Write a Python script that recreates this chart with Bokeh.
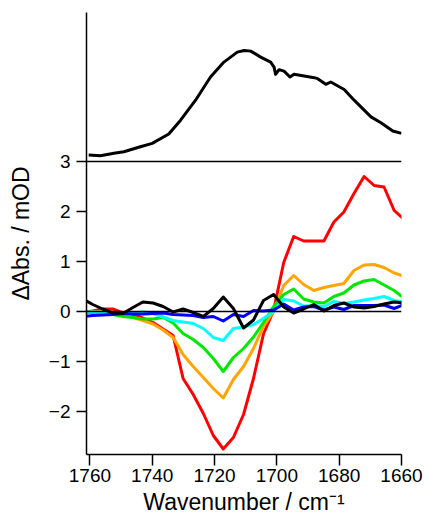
from bokeh.plotting import figure
from bokeh.models import Range1d, Span, FixedTicker
from bokeh.embed import file_html
from bokeh.resources import INLINE

# ---- data ----
wavenumber = [1762.3, 1759.1, 1755.9, 1752.65, 1749.4, 1746.2, 1743.0, 1739.75, 1736.5,
              1733.3, 1730.1, 1726.85, 1723.6, 1720.4, 1717.2, 1713.95, 1710.7, 1707.5,
              1704.3, 1701.05, 1697.8, 1694.6, 1691.4, 1688.15, 1684.9, 1681.7, 1678.5,
              1675.25, 1672.0, 1668.8, 1665.6, 1662.35, 1659.1]

red = [-0.02, 0.01, 0.05, 0.05, -0.03, -0.06, -0.13, -0.22, -0.35, -0.48, -1.34, -1.66,
       -2.04, -2.48, -2.75, -2.52, -2.06, -1.34, -0.45, 0.02, 0.98, 1.50, 1.41, 1.41, 1.41,
       1.79, 1.99, 2.36, 2.70, 2.52, 2.49, 2.02, 1.84]
orange = [-0.02, 0.0, 0.0, -0.02, -0.06, -0.12, -0.18, -0.25, -0.37, -0.52, -0.86, -1.10,
          -1.32, -1.54, -1.73, -1.36, -1.10, -0.74, -0.30, 0.0, 0.52, 0.72, 0.54, 0.42, 0.48,
          0.52, 0.56, 0.82, 0.93, 0.94, 0.88, 0.77, 0.70]
green = [-0.02, -0.02, -0.04, -0.06, -0.10, -0.12, -0.15, -0.15, -0.12, -0.23, -0.44, -0.56,
         -0.72, -0.94, -1.20, -0.92, -0.74, -0.51, -0.22, 0.10, 0.34, 0.45, 0.25, 0.19, 0.17,
         0.30, 0.37, 0.53, 0.61, 0.64, 0.53, 0.42, 0.26]
cyan = [0.0, -0.01, -0.02, -0.04, -0.04, -0.03, -0.01, -0.04, -0.11, -0.18, -0.21, -0.24,
        -0.34, -0.52, -0.58, -0.34, -0.31, -0.26, -0.14, 0.0, 0.24, 0.21, 0.11, 0.12, 0.10,
        0.20, 0.16, 0.19, 0.23, 0.26, 0.30, 0.22, 0.19]
blue = [-0.10, -0.08, -0.07, -0.06, -0.04, -0.05, -0.05, -0.04, -0.03, -0.06, -0.07, -0.08,
        -0.12, -0.10, -0.19, -0.06, -0.10, 0.02, 0.01, 0.03, 0.15, 0.03, 0.09, 0.10, 0.03,
        0.09, 0.04, 0.12, 0.12, 0.12, 0.13, 0.06, 0.14]
black = [0.25, 0.14, 0.05, -0.03, -0.04, 0.08, 0.19, 0.17, 0.10, -0.01, 0.05, -0.02, -0.10,
         0.06, 0.29, 0.06, -0.33, -0.17, 0.22, 0.34, 0.09, -0.03, 0.05, 0.14, 0.01, 0.12,
         0.17, 0.09, 0.07, 0.10, 0.15, 0.19, 0.17]

series = [red, orange, green, cyan, blue, black]
series_colors = ["#ff0000", "#ffa500", "#00e600", "#00ffff", "#0000ff", "#000000"]

# FTIR absorbance (normalised) shown in the upper panel
ftir_wn = [1760.4, 1756.6, 1752.3, 1749.1, 1743.8, 1740.0, 1734.7, 1730.9, 1726.1, 1721.3,
           1717.0, 1712.7, 1710.5, 1708.4, 1705.2, 1702.0, 1700.9, 1700.4, 1699.3, 1697.7,
           1695.8, 1694.5, 1688.0, 1686.9, 1684.3, 1682.7, 1678.4, 1675.2, 1669.8, 1666.6,
           1662.8, 1660.0]
ftir_abs = [0.058, 0.052, 0.074, 0.088, 0.133, 0.163, 0.247, 0.372, 0.552, 0.761, 0.895,
            0.985, 1.0, 0.994, 0.94, 0.895, 0.85, 0.785, 0.827, 0.814, 0.761, 0.785, 0.755,
            0.746, 0.695, 0.716, 0.648, 0.552, 0.402, 0.348, 0.274, 0.253]

x_ticks = [1760, 1740, 1720, 1700, 1680, 1660]
y_ticks = [-2, -1, 0, 1, 2, 3]

FONT = "Liberation Sans"

p = figure(frame_width=315, frame_height=442,
           min_border_left=86, min_border_right=26, min_border_top=12, min_border_bottom=66,
           x_range=Range1d(1761.1, 1660), y_range=Range1d(-2.86, 5.98),
           output_backend="svg", toolbar_location=None)
p.extra_y_ranges = {"ftir": Range1d(-2.64, 1.342)}

p.xgrid.visible = False
p.ygrid.visible = False
p.outline_line_color = None
p.background_fill_color = "white"
p.border_fill_color = "white"

for ax in (p.xaxis[0], p.yaxis[0]):
    ax.axis_line_color = "black"
    ax.axis_line_width = 1.5
    ax.major_tick_line_color = "black"
    ax.major_tick_line_width = 1.5
    ax.major_tick_in = 0
    ax.minor_tick_in = 0
    ax.minor_tick_out = 0
    ax.major_label_text_font = FONT
    ax.major_label_text_font_size = "19px"
    ax.major_label_text_color = "black"
    ax.axis_label_text_font = FONT
    ax.axis_label_text_font_style = "normal"
    ax.axis_label_text_font_size = "23px"
    ax.axis_label_text_color = "black"

p.xaxis.ticker = FixedTicker(ticks=x_ticks)
p.xaxis.major_tick_out = 11
p.xaxis.major_label_standoff = 3
p.xaxis.axis_label = "Wavenumber / cm\u207b\u00b9"
p.xaxis.axis_label_standoff = 4

p.yaxis.ticker = FixedTicker(ticks=y_ticks)
p.yaxis.major_tick_out = 10
p.yaxis.major_label_standoff = 6
p.yaxis.axis_label = "\u0394Abs. / mOD"
p.yaxis.axis_label_standoff = 12

p.add_layout(Span(location=0, dimension="width", line_color="black", line_width=1.5))
p.add_layout(Span(location=3, dimension="width", line_color="black", line_width=1.5))

for ys, c in zip(series, series_colors):
    p.line(wavenumber, ys, line_color=c, line_width=3, line_join="round")

p.line(ftir_wn, ftir_abs, y_range_name="ftir", line_color="black", line_width=3,
       line_join="round")

open("out.html", "w").write(file_html(p, INLINE))
